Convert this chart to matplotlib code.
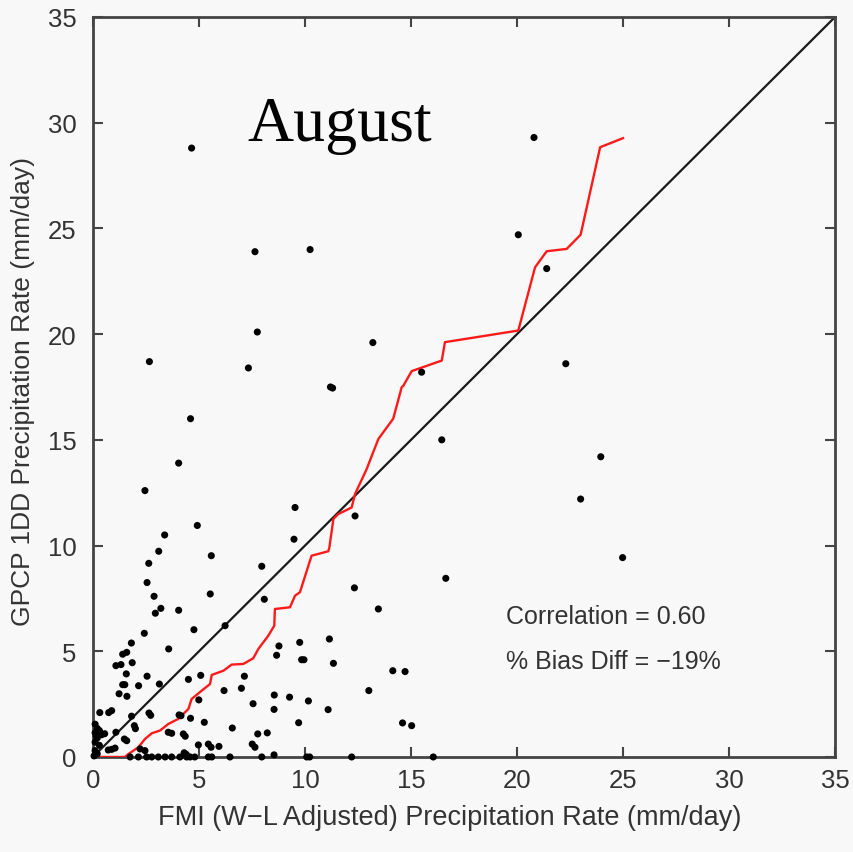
"""Scatter of daily GPCP 1DD vs FMI gauge precipitation for August."""
import matplotlib
matplotlib.use("Agg")
import matplotlib.pyplot as plt

# daily pairs (FMI W-L adjusted, GPCP 1DD), mm/day
fmi = [
    4.65, 20.8, 7.64, 10.24, 20.06, 21.4, 7.75, 2.66, 7.33, 13.2, 11.2, 11.3,
    15.5, 22.3, 4.6, 16.45, 4.04, 23.95, 2.45, 9.53, 12.36, 23.0, 4.92, 3.38,
    9.48, 3.1, 5.58, 2.63, 7.96, 24.98, 16.64, 2.55, 12.33, 5.53, 2.88, 8.08,
    3.2, 2.94, 4.04, 13.46, 4.76, 6.23, 2.42, 1.81, 3.57, 8.77, 8.66, 9.75,
    11.15, 9.84, 9.95, 11.34, 1.59, 1.4, 1.85, 1.32, 1.08, 1.57, 2.55, 1.4,
    1.5, 2.15, 3.13, 1.23, 1.6, 4.5, 5.08, 7.14, 6.18, 7.0, 8.55, 9.27,
    10.16, 7.55, 8.54, 11.09, 13.01, 4.99, 14.14, 14.72, 14.6, 15.03, 9.7, 1.82,
    2.64, 2.72, 0.88, 0.74, 0.32, 4.06, 4.15, 4.6, 5.25, 6.57, 1.95, 2.0,
    3.55, 3.71, 4.26, 4.35, 7.77, 8.22, 1.08, 1.48, 1.59, 1.04, 0.88, 0.72,
    2.22, 2.45, 4.97, 5.44, 5.57, 5.94, 7.51, 7.64,
    0.1, 0.2, 0.3, 0.1, 0.4, 0.2, 0.55, 0.1, 0.3, 0.1, 0.2, 0.05, 0.15,
    1.75, 2.14, 2.53, 2.77, 3.08, 3.4, 3.71, 4.1, 4.42, 4.58, 4.8, 5.44,
    5.6, 6.46, 7.96, 8.54, 10.08, 10.22, 12.2, 16.05, 4.3, 4.4,
]
gpcp = [
    28.8, 29.3, 23.9, 24.0, 24.7, 23.1, 20.1, 18.7, 18.4, 19.6, 17.5, 17.45,
    18.2, 18.6, 16.0, 15.0, 13.9, 14.2, 12.6, 11.8, 11.4, 12.2, 10.95, 10.5,
    10.3, 9.73, 9.52, 9.16, 9.02, 9.43, 8.45, 8.25, 8.0, 7.71, 7.6, 7.46,
    7.03, 6.8, 6.94, 7.0, 6.02, 6.21, 5.85, 5.39, 5.11, 5.25, 4.81, 5.42,
    5.58, 4.6, 4.6, 4.43, 4.95, 4.86, 4.46, 4.37, 4.32, 3.93, 3.82, 3.42,
    3.42, 3.37, 3.45, 2.99, 2.87, 3.67, 3.86, 3.82, 3.14, 3.25, 2.93, 2.83,
    2.65, 2.52, 2.25, 2.24, 3.14, 2.7, 4.08, 4.04, 1.61, 1.48, 1.62, 1.93,
    2.08, 1.97, 2.19, 2.1, 2.1, 1.99, 1.95, 1.83, 1.64, 1.37, 1.48, 1.34,
    1.17, 1.12, 1.09, 0.98, 1.09, 1.14, 1.17, 0.85, 0.77, 0.42, 0.36, 0.33,
    0.38, 0.3, 0.57, 0.61, 0.46, 0.5, 0.61, 0.46,
    1.55, 1.35, 1.25, 1.15, 1.05, 0.9, 1.1, 0.7, 0.55, 0.3, 0.15, 0.05, 1.0,
    0.0, 0.0, 0.0, 0.0, 0.0, 0.0, 0.0, 0.0, 0.0, 0.0, 0.0, 0.0,
    0.0, 0.0, 0.0, 0.1, 0.0, 0.0, 0.0, 0.0, 0.2, 0.12,
]

# ranked (quantile) curve
qq_x = [0, 1.5, 1.67, 2.14, 2.45, 2.77, 3.16, 3.55, 4.02, 4.5, 4.65, 5.13,
        5.52, 5.6, 6.15, 6.54, 7.09, 7.56, 7.8, 8.27, 8.55, 8.58, 9.29, 9.53,
        9.76, 10.31, 11.1, 11.15, 11.34, 11.57, 12.2, 12.36, 12.9, 13.46, 14.16,
        14.56, 14.64, 15.03, 16.45, 16.6, 20.06, 20.85, 21.4, 22.34, 23.0,
        23.92, 25.0]
qq_y = [0, 0, 0.14, 0.46, 0.85, 1.12, 1.25, 1.56, 1.8, 2.27, 2.74, 3.14,
        3.45, 3.88, 4.08, 4.37, 4.4, 4.67, 5.11, 5.74, 6.21, 7.0, 7.08, 7.63,
        7.79, 9.52, 9.73, 9.92, 11.26, 11.49, 11.8, 12.44, 13.6, 15.04, 16.0,
        17.49, 17.56, 18.25, 18.75, 19.62, 20.17, 23.16, 23.92, 24.03, 24.7,
        28.84, 29.27]

correlation = 0.60
bias_diff = -19
month = "August"

bg = "#f8f8f8"
ink = "#333333"
plt.rcParams["font.family"] = ["Liberation Sans", "DejaVu Sans"]

fig = plt.figure(figsize=(8.54, 8.53), dpi=100, facecolor=bg)
ax = fig.add_axes([0.1089, 0.1114, 0.8689, 0.8675], facecolor=bg)

ax.plot([0, 35], [0, 35], color="#1a1a1a", lw=1.6, zorder=2)
ax.plot(qq_x, qq_y, color="#ff1a1a", lw=1.7, zorder=3)
ax.scatter(fmi, gpcp, s=26, color="black", edgecolors="none", zorder=4, clip_on=False)

ax.set_xlim(0, 35)
ax.set_ylim(0, 35)
ticks = range(0, 36, 5)
ax.set_xticks(ticks)
ax.set_yticks(ticks)
ax.tick_params(direction="in", length=7, width=1.5, color="#444444",
               top=True, right=True, labelsize=18.5, labelcolor=ink)
ax.tick_params(axis="y", pad=12)
ax.tick_params(axis="x", pad=8)
for s in ax.spines.values():
    s.set_linewidth(2)
    s.set_color("#444444")

ax.set_xlabel("FMI (W\u2212L Adjusted) Precipitation Rate (mm/day)",
              fontsize=19.5, color=ink, va="center")
ax.xaxis.set_label_coords(0.481, -0.081)
ax.set_ylabel("GPCP 1DD Precipitation Rate (mm/day)",
              fontsize=19, color=ink, va="center")
ax.yaxis.set_label_coords(-0.095, 0.495)

ax.text(11.65, 29.2, month, fontsize=46, family=["Liberation Serif", "DejaVu Serif"],
        ha="center", va="baseline", color="black")
ax.text(19.5, 6.67, f"Correlation = {correlation:.2f}", fontsize=18,
        color=ink, va="center", ha="left")
ax.text(19.5, 4.54, f"% Bias Diff = \u2212{abs(bias_diff)}%", fontsize=18,
        color=ink, va="center", ha="left")

fig.savefig("out.png", dpi=100, facecolor=bg)
plt.close(fig)
